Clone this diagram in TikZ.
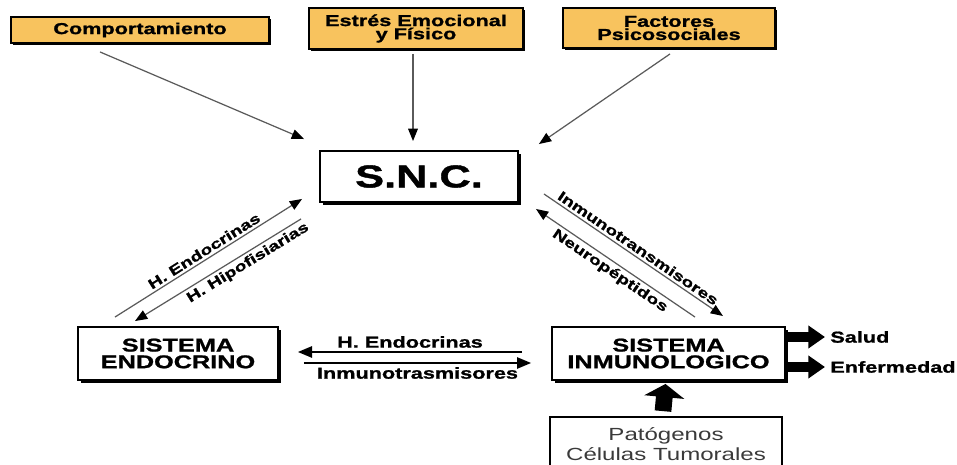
\documentclass[tikz,border=0pt]{standalone}
\usepackage{fontspec}
\newfontfamily\widesans[FakeStretch=1.37, BoldFeatures={FakeBold=1.2}]{Liberation Sans}
\usetikzlibrary{positioning,calc,shadows,arrows.meta}
\definecolor{boxorange}{HTML}{F8C35E}
\definecolor{linegray}{HTML}{5A5A5A}
\definecolor{textgray}{HTML}{3A3A3A}

\begin{document}
\begin{tikzpicture}[x=0.02cm, y=-0.02cm]
  % 样式
  \tikzset{factor/.style = {draw, line width=1.1pt, fill=boxorange, align=center, inner sep=0pt,
      drop shadow={shadow xshift=1pt, shadow yshift=-1pt, fill=black, opacity=1},
      font=\widesans\bfseries\fontsize{9}{7.5}\selectfont}}
  \tikzset{system/.style = {draw, line width=1.1pt, fill=white, align=center, inner sep=0pt,
      drop shadow={shadow xshift=1.6pt, shadow yshift=-1.6pt, fill=black, opacity=1},
      font=\widesans\bfseries\fontsize{10.5}{9.5}\selectfont}}
  \tikzset{thinarrow/.style = {draw=linegray, line width=0.7pt, -{Triangle[length=7pt, width=5.5pt, color=black]}}}
  \tikzset{flatarrow/.style = {draw=black, line width=0.8pt, -{Triangle[length=8pt, width=6.5pt]}}}
  \tikzset{fatarrow/.style = {draw=black, line width=5.7pt, -{Triangle[length=9.5pt, width=12.5pt]}}}
  \tikzset{difflabel/.style = {inner sep=1.5pt, font=\widesans\bfseries\fontsize{8}{8}\selectfont}}
  \tikzset{flatlabel/.style = {inner sep=2pt, font=\widesans\bfseries\fontsize{9}{9}\selectfont}}

  \useasboundingbox (0,0) rectangle (957,465);

  % 方框
  \node[factor, minimum width=5.16cm, minimum height=0.52cm] (comp) at (140,30) {Comportamiento};
  \node[factor, minimum width=4.28cm, minimum height=0.82cm] (est) at (416,28.5) {Estrés Emocional\\y Físico};
  \node[factor, minimum width=4.24cm, minimum height=0.80cm] (fac) at (669,28) {Factores\\Psicosociales};
  \node[system, minimum width=3.96cm, minimum height=1.02cm,
        font=\widesans\bfseries\fontsize{18}{18}\selectfont] (snc) at (419,176.5) {S.N.C.};
  \node[system, minimum width=4.0cm, minimum height=1.06cm] (endo) at (178,353.5) {SISTEMA\\ENDOCRINO};
  \node[system, minimum width=4.66cm, minimum height=1.06cm] (inm) at (668.5,353.5) {SISTEMA\\INMUNOLOGICO};
  \node[draw, line width=1pt, align=center, inner sep=0pt, minimum width=4.64cm, minimum height=1.1cm,
        text=textgray, font=\widesans\fontsize{10}{11.5}\selectfont] (pat) at (666,444.5) {Patógenos\\Células Tumorales};
  \node[flatlabel, anchor=west, inner sep=0pt] (salud) at (830,337) {Salud};
  \node[flatlabel, anchor=west, inner sep=0pt] (enf) at (830,367) {Enfermedad};

  % 箭头
  \draw[thinarrow] ($(comp.south)+(-40,8)$) -- ($(snc.north west)+(-15,-11)$);
  \draw[thinarrow] ($(est.south)+(-3,4)$) -- ($(snc.north)+(-6,-9)$);
  \draw[thinarrow] ($(fac.south)+(1,5)$) -- ($(snc.north east)+(20,-6)$);

  \draw[thinarrow] ($(endo.north)+(-63,-9)$) -- node[sloped, above, difflabel] {H. Endocrinas} ($(snc.south west)+(-17,-4)$);
  \draw[thinarrow] ($(snc.south west)+(-18,16)$) -- node[pos=0.35, sloped, below, difflabel] {H. Hipofisiarias} ($(endo.north)+(-43,-5)$);
  \draw[thinarrow] ($(snc.south east)+(25,-9)$) -- node[sloped, above, difflabel] {Inmunotransmisores} ($(inm.north)+(54.5,-10)$);
  \draw[thinarrow] ($(inm.north)+(26.5,-9)$) -- node[sloped, below, difflabel] {Neuropéptidos} ($(snc.south east)+(17,6)$);

  \draw[flatarrow] ($(inm.west)+(-29,-1.5)$) -- node[above, flatlabel] {H. Endocrinas} ($(endo.east)+(19,-1.5)$);
  \draw[flatarrow] ($(endo.east)+(25,9.5)$) -- node[below, flatlabel] {Inmunotrasmisores} ($(inm.west)+(-20,9.5)$);

  \draw[fatarrow] (inm.east |- salud) -- ($(salud.west)+(-5,0)$);
  \draw[fatarrow] (inm.east |- enf) -- ($(enf.west)+(-5,0)$);
  \draw[fatarrow, line width=9.5pt, -{Triangle[length=7.5pt, width=22.5pt]}] ($(pat.north)+(-3,-5)$) -- ($(inm.south)+(-3,3)$);
\end{tikzpicture}
\end{document}
